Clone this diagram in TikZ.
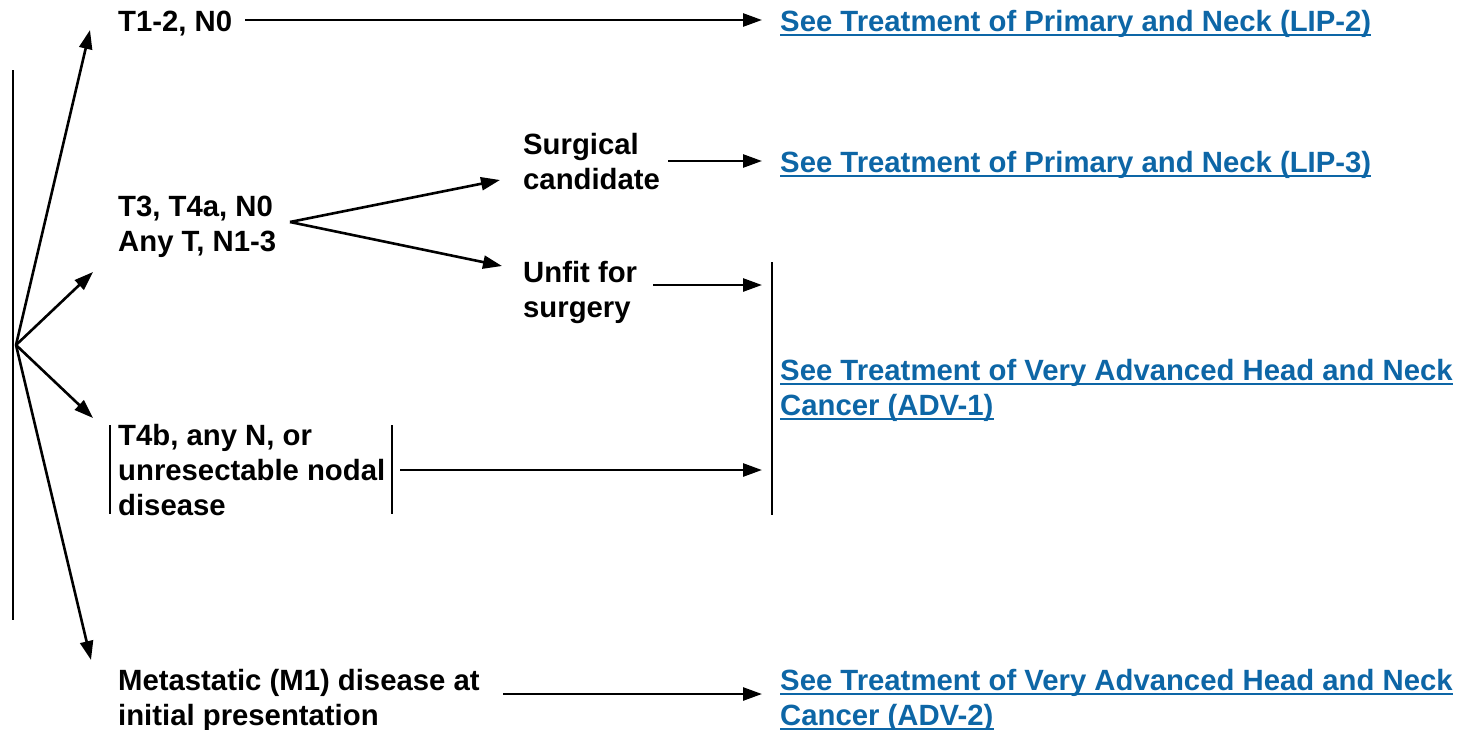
\documentclass[tikz,border=0pt]{standalone}
\usepackage{fontspec}
\setmainfont{Liberation Sans}
\usetikzlibrary{arrows.meta}
\definecolor{linkblue}{HTML}{0D66A6}
\newcommand\lnk[1]{\setbox0\hbox{#1}\rlap{\color{linkblue}\rule[-5pt]{\wd0}{2pt}}\box0}
\tikzset{
  txt/.style={anchor=base west, inner sep=0pt, align=left, font=\fontsize{29.3}{35}\selectfont\bfseries},
  link/.style={txt, text=linkblue},
  arr/.style={line width=2.6pt, -{Triangle[length=19pt,width=13pt]}},
  ln/.style={line width=2.6pt}
}
\begin{document}
\begin{tikzpicture}[x=1pt,y=-1pt]
\useasboundingbox (0,0) rectangle (1470,729);
% left bar and fan
\coordinate (topbar) at (13,70);
\coordinate (botbar) at (13,620);
\draw[ln] (topbar) -- (botbar);
\coordinate (o) at (16,345);
\coordinate (t1) at (90,30);
\coordinate (t2) at (93,272);
\coordinate (t3) at (93,418);
\coordinate (t4) at (91,660);
\draw[arr] (o) -- (t1);
\draw[arr] (o) -- (t2);
\draw[arr] (o) -- (t3);
\draw[arr] (o) -- (t4);
% texts (base anchor = baseline of last line)
\node[txt] (n1) at (118,31) {T1-2, N0};
\node[txt] (n2) at (118,251) {T3, T4a, N0\\Any T, N1-3};
\node[txt] (n3) at (118,515) {T4b, any N, or\\unresectable nodal\\disease};
\node[txt] (n4) at (118,725) {Metastatic (M1) disease at\\initial presentation};
\node[txt] (s1) at (523,189) {Surgical\\candidate};
\node[txt] (s2) at (523,317) {Unfit for\\surgery};
\node[link] (l1) at (780,31) {\lnk{See Treatment of Primary and Neck (LIP-2)}};
\node[link] (l2) at (780,172) {\lnk{See Treatment of Primary and Neck (LIP-3)}};
\node[link] (l3) at (780,415) {\lnk{See Treatment of Very Advanced Head and Neck}\\\lnk{Cancer (ADV-1)}};
\node[link] (l4) at (780,725) {\lnk{See Treatment of Very Advanced Head and Neck}\\\lnk{Cancer (ADV-2)}};
% T4b brackets
\coordinate (bl1) at (110,425); \coordinate (bl2) at (110,514);
\coordinate (br1) at (392,425); \coordinate (br2) at (392,514);
\draw[ln] (bl1) -- (bl2);
\draw[ln] (br1) -- (br2);
% ADV-1 bar
\coordinate (vb1) at (772,262); \coordinate (vb2) at (772,515);
\draw[ln] (vb1) -- (vb2);
% arrows
\coordinate (a1s) at (245,20); \coordinate (a1e) at (762,20);
\draw[arr] (a1s) -- (a1e);
\coordinate (fk) at (290,222);
\coordinate (fk1) at (500,180);
\coordinate (fk2) at (502,266);
\draw[arr] (fk) -- (fk1);
\draw[arr] (fk) -- (fk2);
\coordinate (a2s) at (668,161); \coordinate (a2e) at (762,161);
\draw[arr] (a2s) -- (a2e);
\coordinate (a3s) at (653,285); \coordinate (a3e) at (762,285);
\draw[arr] (a3s) -- (a3e);
\coordinate (a4s) at (400,470); \coordinate (a4e) at (762,470);
\draw[arr] (a4s) -- (a4e);
\coordinate (a5s) at (503,694); \coordinate (a5e) at (762,694);
\draw[arr] (a5s) -- (a5e);
\end{tikzpicture}
\end{document}
